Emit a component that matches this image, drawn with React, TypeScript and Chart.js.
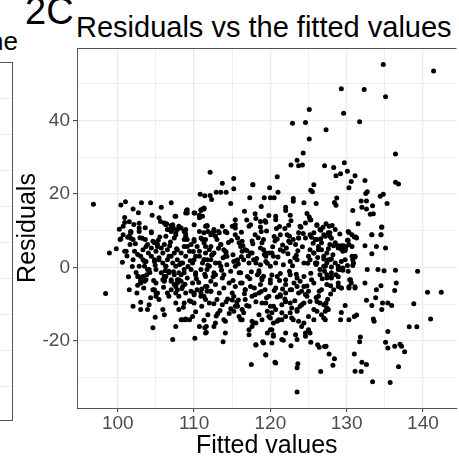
import React, { useEffect, useRef } from "react";
import { Chart, registerables } from "chart.js";
Chart.register(...registerables);

const chartTitle = "Residuals vs the fitted values";
const xAxisTitle = "Fitted values";
const yAxisTitle = "Residuals";
const xGridValues = [100, 105, 110, 115, 120, 125, 130, 135, 140];
const xLabelValues = [100, 110, 120, 130, 140];
const yGridValues = [-30, -20, -10, 0, 10, 20, 30, 40, 50];
const yLabelValues = [-20, 0, 20, 40];
const xMin = 94.65;
const xMax = 144.4;
const yMin = -38.35;
const yMax = 59.8;

const fittedValues = [
  134.8, 141.4, 129.3, 132.3, 135.1, 125.1, 129.6, 122.9, 124.6, 131.7, 127.3, 125.1, 124.3, 136.4, 123.5,
  122.7, 123.7, 124.2, 127.1, 128.3, 129.7, 130.1, 129.2, 128.6, 131.1, 120.9, 117.7, 119.9, 130.6, 130.3,
  132.4, 136.4, 136.8, 125.7, 125.3, 125.5, 121, 117.3, 119.2, 120, 120.5, 123, 123, 132.7, 132.5,
  134.8, 134.4, 135.3, 118.8, 124.4, 126, 128.7, 128.4, 128.6, 131.9, 132.6, 132, 132.6, 133.4, 130.8,
  122, 122, 122.6, 133.1, 133.5, 124.8, 125.1, 125.3, 120.7, 120.7, 118.1, 118.7, 119.3, 117.4, 118.7,
  118.8, 119.4, 120.8, 124, 126.1, 127.7, 128.1, 126.6, 131.5, 134.6, 130.2, 130.7, 131.2, 133.3, 134.5,
  124.3, 121.3, 122.5, 123.7, 118, 127.6, 127.8, 112.1, 115.2, 115.2, 113.7, 117.7, 96.8, 100.4, 101,
  102, 103.1, 104.3, 105.7, 107, 110.8, 111.4, 112.1, 112.3, 112.9, 113.5, 114.2, 114.8, 111.2, 110.9,
  111.3, 109, 109.1, 110.1, 110.7, 104.5, 105.4, 105.6, 107.6, 100.9, 101.5, 100.7, 102.8, 102.8, 106.4,
  107, 107.3, 107.8, 106.7, 108.8, 108.9, 111.7, 112.4, 113.2, 114.1, 115.4, 115.4, 115.4, 117.2, 104.4,
  101.7, 100.4, 101.3, 101.7, 98.9, 98.4, 100.3, 100.7, 100.9, 101.1, 101.5, 102, 101.7, 102, 101.5,
  102.5, 102, 103, 103, 103.9, 104.1, 102.7, 103, 103.7, 102.8, 103.5, 103.9, 102.2, 102.6, 103.3,
  103.7, 104.4, 104.6, 105.2, 104.4, 104.8, 105.4, 105.9, 104.6, 105, 105.4, 104.6, 105.9, 106.1, 105,
  105.9, 106.3, 106.7, 106.1, 107.2, 107.6, 107.6, 108, 108.5, 108.9, 108, 108.5, 107.8, 107.6, 108.3,
  108.7, 108, 106.7, 107.4, 107.8, 106.3, 107, 107.6, 108, 108.9, 108.7, 109.1, 110, 110.2, 110.7,
  109.8, 110.2, 109.8, 110, 110.7, 111.5, 111.4, 110.1, 110.9, 111.5, 112.2, 112.6, 112.8, 113.9, 113.8,
  114.1, 111.5, 112.2, 112.8, 113.7, 111.3, 112, 112.4, 113.3, 114.1, 111.5, 112.2, 112.8, 113.5, 114.1,
  112.6, 113.7, 114.3, 115, 115.4, 115.9, 116.3, 115.2, 115.4, 116.3, 116.7, 115.9, 116.3, 117.2, 117.6,
  117.2, 118.1, 119.1, 119.4, 117.5, 115.4, 115.9, 116.3, 116.7, 117.6, 118.1, 118.5, 118.9, 119.4, 117.6,
  118.5, 119.4, 119.8, 120.2, 120, 120.4, 120.7, 123.5, 133.4, 135.7, 126.6, 131.1, 131.9, 136.8, 123.6,
  123.5, 128.2, 128.4, 120.6, 132, 132.6, 131, 127.7, 119.4, 126.2, 126.4, 127.1, 127.3, 118.1, 119,
  122.7, 123.5, 125.3, 121.7, 120.2, 135.1, 135.4, 136.3, 137, 137.2, 137.6, 131.8, 131.7, 135.4, 138.2,
  139.2, 141, 140.6, 142.4, 138.8, 133.5, 133.6, 130.3, 131, 131.3, 129.2, 129.3, 129.8, 132.6, 133.3,
  133.8, 134.7, 134.6, 135.4, 135.9, 132.4, 133.9, 134.5, 136.3, 136.5, 132.7, 134.1, 134.9, 136.4, 139.3,
  135.1, 133.9, 133.3, 132.4, 133.3, 134.5, 134.6, 130.3, 131, 131.3, 129.3, 129.8, 130.2, 130.7, 131.1,
  130.9, 129.5, 130.2, 130.4, 130.3, 131.1, 128, 128.9, 129.3, 128.3, 127.4, 126.5, 127, 127.2, 126.1,
  125.7, 125, 124.6, 124.1, 123.7, 123, 122.6, 122, 121.5, 123.5, 123.9, 124.4, 124.8, 125.2, 121.1,
  120.4, 119.8, 118.9, 118.1, 117.6, 120, 120.7, 121.5, 122, 122.6, 122.8, 121.3, 122, 122.8, 123.5,
  124.1, 125.9, 126.5, 127.2, 127.8, 128.5, 128.9, 125, 125.7, 126.3, 126.7, 127.4, 127.8, 128.5, 128.9,
  123.7, 124.6, 125.2, 125.9, 126.5, 127.2, 127.8, 128.5, 123.9, 125.2, 126.1, 111.6, 111.6, 114.1, 119.6,
  120.2, 120.4, 122, 123.3, 124.6, 125.2, 121.5, 106.1, 107.2, 107.5, 101.7, 102.8, 111.7, 111.3, 112.2,
  112.6, 113.3, 114.1, 122.2, 122.4, 122.6, 123, 123.3, 123.7, 125.7, 126.1, 126.7, 127, 125.2, 125.7,
  126.3, 127, 121.3, 121.7, 120.4, 120.2, 119.8, 118.7, 119.1, 119.4, 115.7, 116.3, 116.1, 116.7, 117.4,
  113, 113.5, 113.9, 114.3, 112.6, 112, 111.5, 111.3, 112.2, 112.8, 113.5, 114.3, 115.2, 115.7, 116.5,
  117.2, 117.8, 118.7, 119.4, 120, 120.7, 121.7, 122.6, 123.5, 124.4, 125.2, 126.1, 127, 111.7, 112.6,
  113.9, 114.8, 116.1, 117, 118.3, 118.9, 120, 120.9, 122, 122.6, 123.5, 124.4, 125.4, 126.5, 127.4,
  111.7, 112.2, 112.8, 113.3, 113.9, 114.6, 115, 115.4, 116.1, 116.7, 117.4, 118, 118.7, 119.3, 120,
  120.7, 121.3, 122, 122.6, 123.1, 123.7, 124.4, 125, 125.7, 126.3, 126.7, 127.4,
  112, 113, 113.7, 115.2, 115.7, 116.1, 116.5, 117.2, 117.8, 118.5, 118.9, 119.6, 120, 120.4, 120.9,
  121.5, 122, 122.8, 123.5, 124.1, 124.4, 125, 125.7, 126.1, 126.7, 127.3,
  108.3, 108.9, 109.4, 104.8, 105, 105.2, 106.5, 106.7, 107, 107.6, 108, 107.6, 108.9, 109.6, 110,
  110.4, 110.9, 111.3, 111.7, 103, 103.5, 106.1, 107, 107.4, 107.8, 108.3, 108.7, 109.6, 110,
  103.3, 103, 103.7, 103.5, 104.1, 103.8, 103.3, 102.6, 103, 103.9, 104.4, 104.8, 105.2, 105, 105.7,
  106.1, 106.5, 104.8, 105.4, 105.9, 106.5, 107, 106.3, 107.2, 105, 105.7, 106.3, 106.7, 107.4, 106.1,
  107, 107.8, 108.3, 107.8, 108.5, 108.3, 108.9, 108.7, 109.4, 109.1, 109.6, 110, 110.4, 110.9, 111.3,
  111.5, 110.7, 110, 111.1, 111.7, 109.6, 110.2, 110.9, 111.5, 109.1, 108.7, 107.2, 107, 106.5, 107.6,
  106.3, 108.3, 108.7, 107.4, 108.9, 110, 110.7, 111.1, 111.5, 111.8, 108.9, 109.1, 110, 110.9, 111.1,
  110.7, 111.3, 128.3, 128.9, 129.3, 129.6, 129.9, 130.1, 130.3, 129.5, 129.8, 130.7, 131.1, 130.8, 127,
  127.6, 128, 127.4, 128, 128.9, 129.3, 129.8, 129.1, 129.5, 130.1, 128.6, 128.9, 130.8, 127.1, 127.4,
  128, 128, 127.9, 128.9, 129.3, 130.3, 131.1, 130.6, 130.5, 127, 127.4, 127.6, 127.2,
  113.2, 113.8, 114.5, 115.1, 115.8, 116.4, 117.1, 117.7, 113.6, 114.2, 114.9, 115.5, 116.2, 116.9, 117.5,
  118.2, 118.9, 119.6, 120.3, 121, 121.6, 122.3, 122.9, 123.6, 118.5, 119.2, 120.6, 121.3, 122.1, 123.2,
  107.3, 108.1, 108.8, 109.5, 110.3, 111, 111.8, 112.5, 107.7, 108.4, 109.2, 109.9, 110.6, 111.4, 112.3,
  114.4, 115.1, 115.8, 116.6, 117.3, 118.1, 118.8, 119.5, 120.2, 120.9, 114.8, 116.9, 117.9, 119.1, 120.5,
  121.2, 121.9, 122.5, 123.2, 123.9, 124.6, 125.3, 126, 126.8, 127.5, 121.6, 123.4, 124.8, 126.4, 127.9,
  102.3, 102.9, 103.6, 104.2, 104.9, 105.5, 106.2, 106.9, 102.6, 103.4, 104, 104.7, 105.3, 106, 106.8,
  124.2, 124.9, 125.6, 126.2, 126.9, 127.6, 128.2, 124.6, 125.4, 126, 126.6, 127.3, 128, 123.4, 129.1,
  116.2, 116.9, 117.6, 118.4, 119.1, 119.8, 120.5, 121.2, 121.9, 122.7, 116.6, 118, 119.5, 120.9, 122.4,
  108.6, 109.4, 110.2, 111, 111.8, 112.6, 113.4, 114.2, 115, 109.8, 111.3, 112.9, 114.6, 115.6, 113.1,
  100.6, 101.2, 101.9, 102.4, 103.2, 100.9, 101.6, 102.1, 103.6, 99.8, 104.3, 104.9, 100.2, 101.4, 102.7,
];

const residualValues = [
  55.3, 53.5, 48.7, 48.5, 46.5, 43, 42, 39.3, 39.5, 39.7, 37.5, 35, 31.2, 30.9, 29.2,
  27.9, 27.7, 27.9, 27.7, 27.2, 28.5, 26.2, 25.5, 25, 25, 24.7, 22.5, 21.7, 23.4, 21.7,
  23.7, 23.2, 22.7, 22.5, 21, 20.6, 20.5, 19, 19, 19, 19, 18.8, 18, 20.6, 20.1,
  19.9, 19.4, 17.4, 16.6, 17.6, 17.4, 18.9, 17.7, 16.9, 18.1, 18.1, 16.4, 15.9, 16.8, 15.5,
  15.5, 16.4, 14.2, 14.5, 14.6, 14.7, 13.7, 12.9, 13.9, 13, 13.3, 12.5, 12.7, 11.6, 11,
  9.8, 12.3, 10.6, 10.9, 11.4, 11.2, 11.4, 10.1, 11.9, 10.9, 9.8, 8.9, 8.3, 8.9, 8.9,
  9.2, 8.9, 8.5, 8, 8.9, 9.4, 8.5, 25.9, 24.2, 21.4, 22.9, 22.5, 17.2, 17, 17.9,
  15.9, 17.6, 17.6, 16.4, 17.6, 19.9, 19.5, 19.6, 18.5, 20.5, 20.5, 20.5, 17.4, 16, 15.5,
  15.9, 15.5, 14.8, 14.8, 14.2, 14.2, 13.5, 12.5, 13.9, 12.2, 12.4, 11.2, 12, 10.7, 11.9,
  11.4, 10.6, 10.3, 10.3, 9.8, 9.1, 11.4, 9.4, 9.8, 9.8, 13, 11.6, 10.7, 11.2, 9.7,
  9.7, 7.8, 8.2, 7.9, 3.9, -7.1, 7.6, 8.9, 4.4, 4.4, 8.5, 7.6, 9.4, 2.1, -6.1,
  -7, -10.6, -9.5, -11.5, -11.5, -10.2, -2.5, -3.8, -3.4, 0.3, 1.6, -0.6, 4.4, 3.5, 4.8,
  5.7, 9.4, 7.1, 6.2, 3, 1.6, 2.1, 3.9, -6.1, -7, -8.8, -16.5, -11.5, -12.9, -4.3,
  -3.4, 0.3, -1.5, -2.5, -19.7, -16.1, -9.7, -11.5, -14.3, -14.3, -3.4, -5.2, -6.1, 0.3, 1.2,
  -0.6, -1.5, 3, 3.9, 4.8, 8.5, 10.3, 9.4, 11.2, 10.3, 7.6, 5.7, 7.6, 3, 4.4,
  1.2, -1.5, -4.3, -7, -16.1, -17.9, -16.5, -19.3, -7.9, -8.8, -6.5, -16.1, -15.2, -14.3, -20.3,
  -17.9, -5.2, -3.8, -2, -2.9, 2.1, 0.3, 3.5, 1.2, 3, 7.6, 5.7, 8.5, 6.2, 4.4,
  10.3, 11.2, 9.4, 11.2, 8.9, 6.7, 4.4, -7.9, -10.6, -11.5, -8.8, -13.4, -14.3, -17, -14.7,
  -18.4, -21.1, -20.6, -23.8, -26.5, 0.3, -1.5, -4.3, -6.1, 3.9, 1.2, -1.5, -3.4, 3, -7.9,
  -7, -9.7, -7.9, -12.4, -17, -18.4, -26.1, -34, -31.2, -31.4, -28.4, -28.3, -28.4, -27.1, -26.3,
  -27.4, -26.7, -24.9, -25.9, -25.9, -26.5, -23.6, -23.6, -23.9, -21.1, -21.8, -21.6, -21.5, -21.2, -20.3,
  -21.4, -19.7, -20.4, -19.9, -20.6, -20.4, -22, -21.5, -21, -21.5, -23, -19, -20.3, -17.5, -16.2,
  -16.2, -14.1, -6.8, -6.8, -9.9, -14.1, -14.7, -14.3, -13.4, -13, -14.3, -12.3, -10.4, -9, -10.4,
  -8.3, -9.7, -11.5, -9.7, -10.4, -4.3, -6.1, -5, -6.3, -4.3, -0.6, -0.6, -0.9, -0.8, -1.1,
  5.3, 5.7, 3.7, 5.9, 8.9, 8.9, 11, 9.5, 8.3, 8, 5.9, 4.8, 7.4, 5.7, 3,
  1.2, -0.2, -1.1, -3.4, -5.6, -5.6, -2.5, -4.3, -5.6, -6.1, -11.1, -9.7, -13.8, -14.3, -12,
  -14.3, -17, -17.9, -16.1, -14.7, -14.3, -12.4, -13.4, -14.3, -11.5, -10.6, -9.7, -7.9, -9.3, -14.3,
  -15.2, -13.4, -14.3, -15.2, -16.1, -10.6, -11.5, -10.2, -9.3, -9.7, -11.1, -7.9, -7, -6.1, -5.2,
  -6.5, 1.2, -0.6, 0.3, 2.1, 1.2, -0.6, 3, 3.9, 5.7, 4.8, 3.9, 6.2, 6.7, 5.3,
  9.4, 8, 8.9, 7.6, 10.3, 8.5, 9.4, 10.3, 11.2, 13, 11.6, -16.1, -17.7, -14.7, -17.9,
  -17, -18.8, -17.9, -18.4, -18.8, -17.9, -19.7, 12.1, 11.6, 13.9, 9.8, 9.8, 11.2, 9.4, 8.9,
  9.8, 9.4, 9.8, 8.9, 7.1, 6.7, 7.6, 6.2, 8, 9.4, 7.6, 6.7, 8.9, 4.8, 3.9,
  4.8, 3, 4.8, 4.4, 3, 3.9, 3.9, 5.3, 4.8, 3.9, 8, 7.1, 5.7, 4.8, 3.9,
  7.6, 6.2, 4.8, 3, 3.9, 4.8, 5.7, 2.1, 2.1, 1.2, 0.3, 0.7, 1.6, 2.1, 2.1,
  1.2, 2.1, 0.7, 1.6, 0.3, 1.2, 0.7, 1.6, 2.1, 1.2, 2.1, 1.2, 0.3, -0.6, -1.5,
  -2, -1.1, -1.5, -2.5, -2, -2.9, -3.4, -2.5, -3.4, -2, -2.9, -2.5, -3.4, -2, -2.9,
  -5.2, -6.5, -4.7, -7, -5.6, -4.3, -7, -5.2, -4.3, -6.1, -5.2, -7.5, -4.7, -6.1, -4.3,
  -5.6, -7.5, -4.7, -6.1, -4.3, -7, -5.2, -6.5, -4.3, -7.9, -6.1, -4.7,
  -9.7, -8.8, -10.2, -12, -10.6, -14.3, -12.4, -10.6, -15.2, -12.9, -9.7, -12, -13.8, -10.6, -14.7,
  -12.4, -9.3, -13.8, -12, -10.2, -15.2, -13.4, -11.5, -9.3, -12.9, -9.7,
  -14.3, -14.1, -14.3, -6.1, -7.9, -7, -7, -7.9, -6.1, -7, -7.9, -5.2, -7, -6.5, -7.5,
  -6.1, -7, -7.9, -6.5, -4.3, -3.8, -3.4, -3.8, -4.7, -4.3, -3.8, -9.7, -9.3, -9.7,
  2.1, 3, 1.6, 0.3, -0.6, -2, -2.5, -2.5, -3.4, 6.2, 5.3, 6.7, 5.7, 4.4, 5.3,
  6.2, 4.8, 2.1, 2.6, 1.2, 2.1, 3, 0.3, 1.2, -0.6, -1.5, -2.5, -1.1, -2, -3.8,
  -3.4, -3.4, -2, 2.1, 1.2, 3.9, 3, 5.7, 4.4, 7.6, 6.2, 7.1, 5.7, 8, 6.7,
  3.9, 3, 2.1, 1.2, 2.1, -0.6, -2, -0.6, -2.5, -2.9, -1.5, 11.2, 9.8, 10.3, 8.9,
  11.6, 10.7, 9.8, 8, 8.5, 11.6, 9.8, 7.6, 11.2, 9.8, 14.8, 15.7, 14.8, 15.7, 13.9,
  13.5, 16.2, 5.9, 5.9, 5, 5.9, 5.6, 7.4, 6.2, 4.4, 4.6, 3, 2.8, 2.1, 2.3,
  2.1, 2.3, 1.2, 0.1, 0.3, 1.6, 2.1, -0.6, -0.8, 0.5, -2, -2.6, 0.5, -1.1, -2,
  -1.5, -2.9, -5, -5.2, -5.6, -5.3, -5.3, -4.3, -3.4, -10.2, -11.1, -11.5, -12,
  5.2, 2.6, 6.8, 3.4, 0.9, 5.9, 3.1, 6.4, -0.8, 4.1, 7.3, 1.8, 2.9, 4.6, -1.2,
  2.4, 6.7, 1.1, 5.6, 2.8, 6.1, 3.7, 0.4, 4.5, -0.9, 3.5, 7.2, -1.7, 5.3, 2.6,
  -1.2, 0.8, -4.6, 1.8, -3.1, -5.9, 0.6, -2.6, 5.1, -5.8, 0.2, 4.3, -4.1, -1.9, 3.3,
  -8.6, -3.6, -8.9, -7.2, -3.1, -9.4, -6.6, -8.3, -2.1, -8.1, -11.3, -10.4, -5.6, -2.4, -6.3,
  -3.6, -8.6, -1.1, -9.1, -3.8, -7.4, -1.6, -8.2, -3.1, -8.7, -5.9, -1.9, -5.1, -6.5, -7.3,
  6.4, 8.1, 7.6, -1.4, 0.6, 8.3, -0.9, 6.9, -4.9, -5.6, 3.9, -3.6, 7.4, -5.4, 5.9,
  5.6, 1.1, 6.6, 2.7, 10.9, 5.1, 3.4, 12.1, 8.2, 0.8, 7.8, 11.9, 7.9, 3.3, 9.1,
  9.6, 12.9, 7.2, 8.1, 7.6, 14.1, 8.4, 11.1, 10.6, 12.7, 15.3, 14.6, 9.9, 7.7, 11.5,
  -10.9, -9.1, -12.1, -10.6, -12.9, -9.9, -11.8, -9.4, -8.9, -13.4, -14.4, -13.3, -12.6, -9.5, -12.6,
  1.4, 3.1, 0.2, -1.4, 7.9, 13.6, 6.2, 11.7, 10.8, 5.1, -8.3, -13.6, 10.4, -2.6, 14.9,
];

const FONT = "'Liberation Sans', Arial, sans-serif";
const GRID = "#ebebeb";
const FRAME = "#555555";
const TICK_TEXT = "#4d4d4d";

const framePlugin = {
  id: "panelFrameTop",
  afterDatasetsDraw(chart: any) {
    const { ctx, chartArea } = chart;
    ctx.save();
    ctx.strokeStyle = FRAME;
    ctx.lineWidth = 1;
    ctx.beginPath();
    const y = Math.round(chartArea.top) + 0.5;
    ctx.moveTo(chartArea.left, y);
    ctx.lineTo(chartArea.right, y);
    ctx.stroke();
    ctx.restore();
  },
};

export default function App() {
  const canvasRef = useRef<HTMLCanvasElement | null>(null);

  useEffect(() => {
    if (!canvasRef.current) return;
    const points = fittedValues.map((x, i) => ({ x, y: residualValues[i] }));
    const chart = new Chart(canvasRef.current, {
      type: "scatter",
      data: {
        datasets: [
          {
            data: points,
            pointRadius: 2.5,
            pointBackgroundColor: "#000000",
            pointBorderWidth: 0,
            borderColor: "#000000",
            pointHoverRadius: 2.5,
          },
        ],
      },
      options: {
        animation: false,
        responsive: false,
        maintainAspectRatio: false,
        events: [],
        layout: { padding: { top: 48, left: 0, right: 0, bottom: 0 } },
        plugins: {
          legend: { display: false },
          tooltip: { enabled: false },
          title: { display: false },
        },
        scales: {
          x: {
            type: "linear",
            min: xMin,
            max: xMax,
            afterBuildTicks: (s: any) => {
              s.ticks = xGridValues.map((v) => ({ value: v }));
            },
            afterFit: (s: any) => {
              s.height = 52;
            },
            grid: {
              color: GRID,
              lineWidth: (c: any) => (c.tick && xLabelValues.includes(c.tick.value) ? 1.3 : 0.8),
              drawTicks: true,
              tickLength: 4,
              tickColor: (c: any) => (c.tick && xLabelValues.includes(c.tick.value) ? "#333333" : "rgba(0,0,0,0)"),
              tickWidth: 1,
            },
            border: { display: true, color: FRAME, width: 1 },
            ticks: {
              autoSkip: false,
              maxRotation: 0,
              padding: 0,
              color: TICK_TEXT,
              font: { family: FONT, size: 19 },
              callback: (v: any) => (xLabelValues.includes(Number(v)) ? String(v) : ""),
            },
            title: {
              display: true,
              text: xAxisTitle,
              color: "#000000",
              font: { family: FONT, size: 25 },
              padding: { top: 0, bottom: -1 },
            },
          },
          y: {
            type: "linear",
            min: yMin,
            max: yMax,
            afterBuildTicks: (s: any) => {
              s.ticks = yGridValues.map((v) => ({ value: v }));
            },
            afterFit: (s: any) => {
              s.width = 77;
            },
            grid: {
              color: GRID,
              lineWidth: (c: any) => (c.tick && yLabelValues.includes(c.tick.value) ? 1.3 : 0.8),
              drawTicks: true,
              tickLength: 4,
              tickColor: (c: any) => (c.tick && yLabelValues.includes(c.tick.value) ? "#333333" : "rgba(0,0,0,0)"),
              tickWidth: 1,
            },
            border: { display: true, color: FRAME, width: 1 },
            ticks: {
              autoSkip: false,
              padding: 3,
              color: TICK_TEXT,
              font: { family: FONT, size: 19 },
              callback: (v: any) => (yLabelValues.includes(Number(v)) ? String(v) : ""),
            },
            title: {
              display: true,
              text: yAxisTitle,
              color: "#000000",
              font: { family: FONT, size: 25 },
              padding: { top: 13, bottom: 0 },
            },
          },
        },
      },
      plugins: [framePlugin],
    });
    return () => chart.destroy();
  }, []);

  return (
    <div
      style={{
        position: "absolute",
        left: 0,
        top: 0,
        width: 459,
        height: 460,
        overflow: "hidden",
        background: "#ffffff",
        fontFamily: FONT,
      }}
    >
      <div
        style={{
          position: "absolute",
          left: -20,
          top: 62,
          width: 31,
          height: 357,
          border: `1px solid ${FRAME}`,
          backgroundImage: `repeating-linear-gradient(to bottom, rgba(0,0,0,0) 0px, rgba(0,0,0,0) 35px, ${GRID} 35px, ${GRID} 36px)`,
        }}
      />
      <div
        style={{
          position: "absolute",
          right: 441,
          top: 28,
          fontSize: 26,
          lineHeight: "26px",
          color: "#000000",
          whiteSpace: "nowrap",
        }}
      >
        ne
      </div>
      <div
        style={{
          position: "absolute",
          left: 25,
          top: -8,
          fontSize: 38,
          lineHeight: "38px",
          color: "#000000",
          whiteSpace: "nowrap",
        }}
      >
        2C
      </div>
      <div
        style={{
          position: "absolute",
          left: 76,
          top: 12.5,
          fontSize: 29,
          lineHeight: "29px",
          color: "#000000",
          whiteSpace: "nowrap",
        }}
      >
        {chartTitle}
      </div>
      <canvas
        ref={canvasRef}
        width={459}
        height={460}
        style={{ position: "absolute", left: 0, top: 0, width: 459, height: 460 }}
      />
    </div>
  );
}
